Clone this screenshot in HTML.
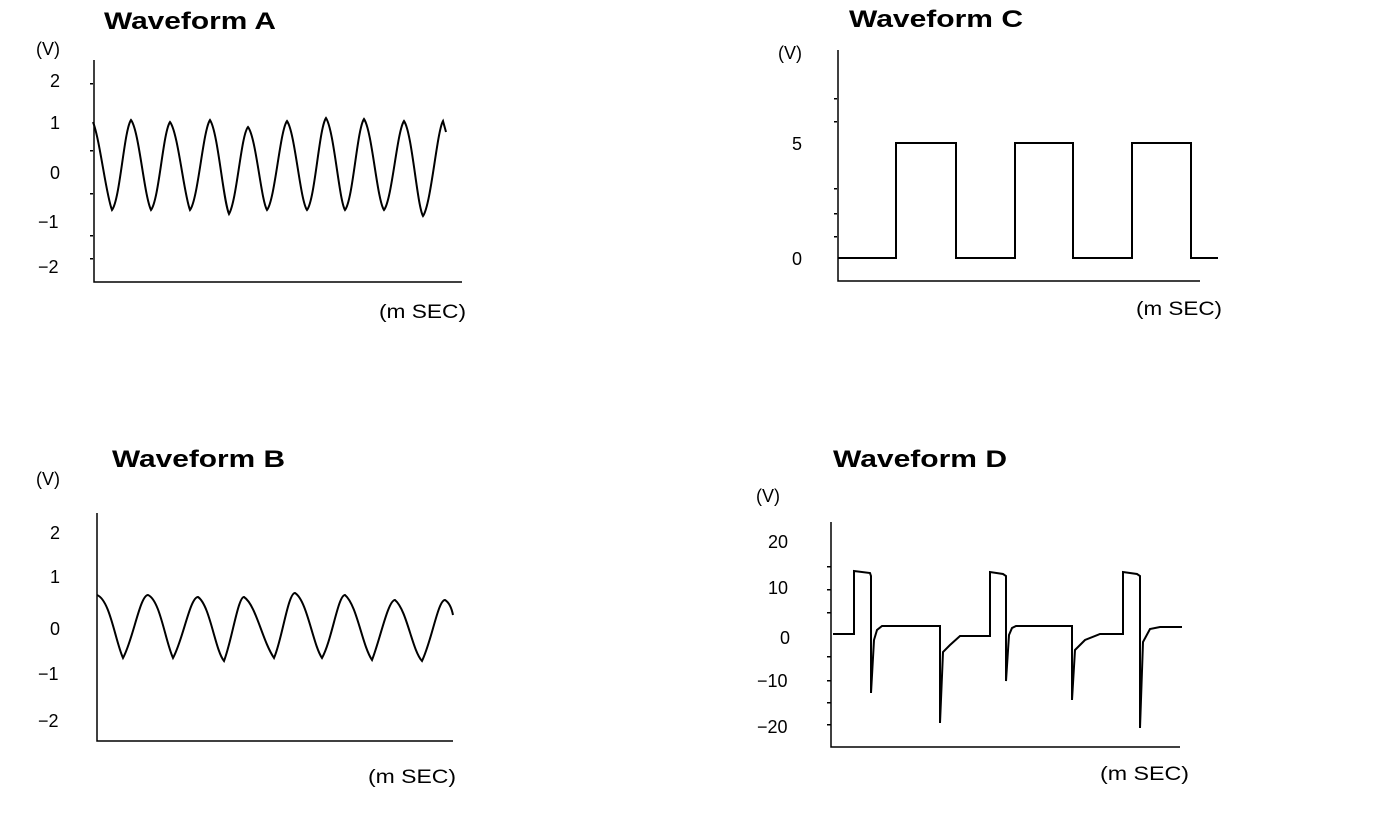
<!DOCTYPE html>
<html><head><meta charset="utf-8"><style>
html,body{margin:0;padding:0;background:#fff;}
svg{display:block;}
text{font-family:"Liberation Sans",sans-serif;fill:#000;}
.t{font-size:24px;font-weight:bold;}
.l{font-size:18px;}
.m{font-size:19px;}
</style></head><body>
<svg width="1376" height="820" viewBox="0 0 1376 820" xmlns="http://www.w3.org/2000/svg">
<g fill="none" stroke="#000" stroke-width="2">
<!-- A -->
<path d="M94 60V282H462" stroke-width="1.5"/>
<path d="M93 122C100 140 106 195 112 210C120 200 124 130 131 120C139 130 144 195 151 210C159 200 163 132 170 122C178 132 184 195 190 210C198 200 203 130 210 120C218 132 223 200 229 214C237 200 241 135 248 127C256 137 261 200 267 210C275 200 280 130 287 121C295 132 300 200 307 210C315 200 319 128 326 118C334 130 339 200 345 210C353 200 357 129 364 119C372 130 377 200 384 210C392 200 397 131 404 121C412 132 417 205 423 216C431 205 437 131 443 121L446 132" />
<!-- C -->
<path d="M838 50V281H1200" stroke-width="1.5"/>
<path d="M838 258H896V143H956V258H1015V143H1073V258H1132V143H1191V258H1218"/>
<!-- B -->
<path d="M97 513V741H453" stroke-width="1.5"/>
<path d="M97 595C110 600 115 640 123 658C133 640 140 595 148 595C160 600 165 640 173 658C183 640 190 597 198 597C210 605 215 650 224 661C232 640 238 597 244 597C256 605 262 640 274 658C282 640 288 593 295 593C307 600 313 645 322 658C332 640 338 595 345 595C357 605 362 645 372 660C380 640 388 600 395 600C407 610 412 650 422 661C432 640 438 600 445 600C450 603 452 610 453 615"/>
<!-- D -->
<path d="M831 522V747H1180" stroke-width="1.5"/>
<path d="M833 634H854V571L870 573L871 576V693L874 640L877 630L882 626H940V723L943 652L950 645L960 636H990V572L1003 574L1006 576V681L1009 635L1012 628L1016 626H1072V700L1075 650L1085 640L1100 634H1123V572L1137 574L1140 576V728L1143 642L1150 629L1160 627H1182"/>
</g>
<g fill="#000">
<rect x="90" y="83" width="3" height="1.5"/><rect x="90" y="150" width="3" height="1.5"/><rect x="90" y="193" width="3" height="1.5"/><rect x="90" y="235" width="3" height="1.5"/><rect x="90" y="258" width="3" height="1.5"/>
<rect x="834" y="98" width="3" height="1.5"/><rect x="834" y="121" width="3" height="1.5"/><rect x="834" y="188" width="3" height="1.5"/><rect x="834" y="213" width="3" height="1.5"/><rect x="834" y="236" width="3" height="1.5"/>
<rect x="827" y="566" width="4" height="1.5"/><rect x="827" y="589" width="4" height="1.5"/><rect x="827" y="612" width="4" height="1.5"/><rect x="827" y="656" width="4" height="1.5"/><rect x="827" y="680" width="4" height="1.5"/><rect x="827" y="702" width="4" height="1.5"/><rect x="827" y="724" width="4" height="1.5"/>
</g>
<text class="t" x="104" y="29" textLength="172" lengthAdjust="spacingAndGlyphs">Waveform  A</text>
<text class="l" x="36" y="55">(V)</text>
<text class="l" x="50" y="87">2</text>
<text class="l" x="50" y="129">1</text>
<text class="l" x="50" y="179">0</text>
<text class="l" x="38" y="228">−1</text>
<text class="l" x="38" y="273">−2</text>
<text class="m" x="379" y="318" textLength="87" lengthAdjust="spacingAndGlyphs">(m SEC)</text>

<text class="t" x="849" y="27" textLength="174" lengthAdjust="spacingAndGlyphs">Waveform  C</text>
<text class="l" x="778" y="59">(V)</text>
<text class="l" x="792" y="150">5</text>
<text class="l" x="792" y="265">0</text>
<text class="m" x="1136" y="315" textLength="86" lengthAdjust="spacingAndGlyphs">(m SEC)</text>

<text class="t" x="112" y="467" textLength="173" lengthAdjust="spacingAndGlyphs">Waveform  B</text>
<text class="l" x="36" y="485">(V)</text>
<text class="l" x="50" y="539">2</text>
<text class="l" x="50" y="583">1</text>
<text class="l" x="50" y="635">0</text>
<text class="l" x="38" y="680">−1</text>
<text class="l" x="38" y="727">−2</text>
<text class="m" x="368" y="783" textLength="88" lengthAdjust="spacingAndGlyphs">(m SEC)</text>

<text class="t" x="833" y="467" textLength="174" lengthAdjust="spacingAndGlyphs">Waveform  D</text>
<text class="l" x="756" y="502">(V)</text>
<text class="l" x="768" y="548">20</text>
<text class="l" x="768" y="594">10</text>
<text class="l" x="780" y="644">0</text>
<text class="l" x="757" y="687">−10</text>
<text class="l" x="757" y="733">−20</text>
<text class="m" x="1100" y="780" textLength="89" lengthAdjust="spacingAndGlyphs">(m SEC)</text>
</svg>
</body></html>
